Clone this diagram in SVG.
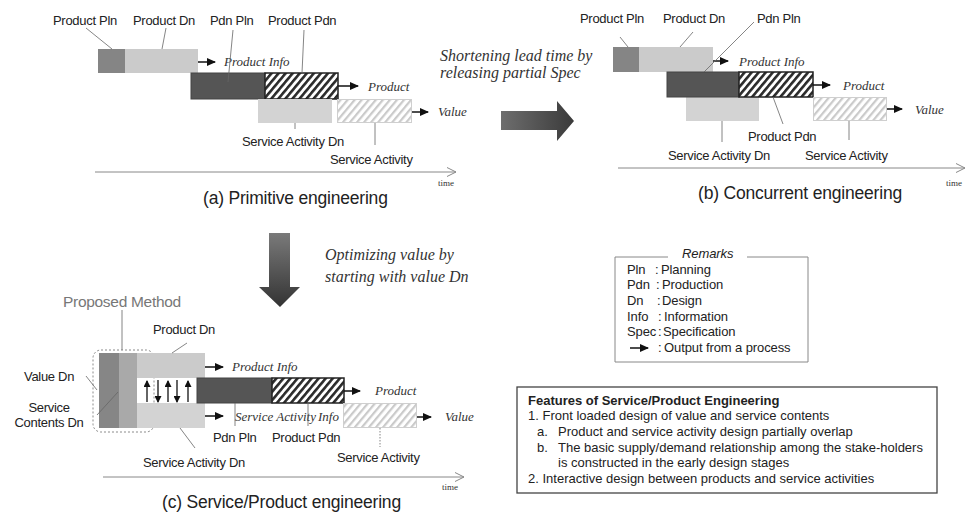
<svg xmlns="http://www.w3.org/2000/svg" width="965" height="513" viewBox="0 0 965 513">
<defs>
<style>
.l{font-family:"Liberation Sans",Arial,sans-serif;font-size:13px;fill:#222;letter-spacing:-0.3px}
.t{font-family:"Liberation Sans",Arial,sans-serif;font-size:17.5px;fill:#222;letter-spacing:-0.2px}
.i{font-family:"Liberation Serif","Times New Roman",serif;font-style:italic;font-size:13px;fill:#333}
.big{font-family:"Liberation Serif","Times New Roman",serif;font-style:italic;font-size:16px;fill:#333}
.tm{font-family:"Liberation Serif","Times New Roman",serif;font-size:9px;fill:#333}
.r{font-family:"Liberation Sans",Arial,sans-serif;font-size:13px;fill:#222;letter-spacing:-0.1px}
.f{font-family:"Liberation Sans",Arial,sans-serif;font-size:13px;fill:#222}
.ld{stroke:#666;stroke-width:0.8;fill:none}
.o{stroke:#111;stroke-width:1.5;fill:none;marker-end:url(#ah)}
.ax{stroke:#888;stroke-width:1;fill:none;marker-end:url(#ax)}
.pln{fill:#858585}
.dn{fill:#cbcbcb}
.sdn{fill:#d3d3d3}
.pp{fill:#555;stroke:#444;stroke-width:1}
.hd{fill:url(#hd);stroke:#222;stroke-width:1.5}
.hl{fill:url(#hl);stroke:#cfcfcf;stroke-width:1}
.ud{stroke:#111;stroke-width:1.3;fill:none}
</style>
<marker id="ah" markerUnits="userSpaceOnUse" markerWidth="9" markerHeight="8" refX="8" refY="4" orient="auto"><path d="M0,0 L9,4 L0,8 z" fill="#111"/></marker>
<marker id="ax" markerUnits="userSpaceOnUse" markerWidth="10" markerHeight="10" refX="9" refY="5" orient="auto"><path d="M0,0.5 L9,5 L0,9.5" fill="none" stroke="#888" stroke-width="1"/></marker>
<marker id="sm" markerUnits="userSpaceOnUse" markerWidth="7" markerHeight="7" refX="6" refY="3.5" orient="auto"><path d="M0,0 L7,3.5 L0,7 z" fill="#111"/></marker>
<pattern id="hd" width="5.4" height="10" patternUnits="userSpaceOnUse" patternTransform="rotate(40)"><rect width="5.4" height="10" fill="#fff"/><rect width="2.6" height="10" fill="#2a2a2a"/></pattern>
<pattern id="hl" width="5.4" height="10" patternUnits="userSpaceOnUse" patternTransform="rotate(40)"><rect width="5.4" height="10" fill="#fff"/><rect width="2.2" height="10" fill="#cacaca"/></pattern>
<linearGradient id="gr" x1="0" y1="0" x2="1" y2="0"><stop offset="0" stop-color="#6e6e6e"/><stop offset="1" stop-color="#3a3a3a"/></linearGradient>
<linearGradient id="gd" x1="0" y1="0" x2="0" y2="1"><stop offset="0" stop-color="#7a7a7a"/><stop offset="1" stop-color="#333"/></linearGradient>
</defs>
<rect width="965" height="513" fill="#fff"/>

<!-- Panel (a) -->
<g id="a-product-pln"><rect class="pln" x="98" y="49" width="27" height="24"/><text class="l" x="53" y="25">Product Pln</text></g>
<g id="a-product-dn"><rect class="dn" x="125" y="49" width="73" height="24"/><text class="l" x="133" y="25">Product Dn</text></g>
<g id="a-pdn-pln"><rect class="pp" x="191" y="73" width="74" height="26"/><text class="l" x="210" y="25">Pdn Pln</text></g>
<g id="a-product-pdn"><rect class="hd" x="265" y="73" width="73" height="26"/><text class="l" x="268" y="25">Product Pdn</text></g>
<g id="a-sa-dn"><rect class="sdn" x="258" y="99" width="74" height="24"/><text class="l" x="242" y="146">Service Activity Dn</text></g>
<g id="a-sa"><rect class="hl" x="337.5" y="99.5" width="74" height="23"/><text class="l" x="330" y="164">Service Activity</text></g>
<g id="a-outputs">
<text class="i" x="224" y="66">Product Info</text>
<text class="i" x="368" y="91">Product</text>
<text class="i" x="438" y="116">Value</text>
</g>
<text class="tm" x="438" y="186">time</text>
<text class="t" x="203" y="204">(a) Primitive engineering</text>

<!-- Panel (b) -->
<g id="b-product-pln"><rect class="pln" x="613" y="47" width="26" height="25"/><text class="l" x="580" y="23">Product Pln</text></g>
<g id="b-product-dn"><rect class="dn" x="639" y="47" width="74" height="25"/><text class="l" x="663" y="23">Product Dn</text></g>
<g id="b-sa-dn"><rect class="sdn" x="686" y="97" width="73" height="24"/><text class="l" x="668" y="160">Service Activity Dn</text></g>
<g id="b-pdn-pln"><rect class="pp" x="667" y="72" width="72" height="25"/><text class="l" x="757" y="23">Pdn Pln</text></g>
<g id="b-product-pdn"><rect class="hd" x="739" y="72" width="74" height="25"/><text class="l" x="748" y="141">Product Pdn</text></g>
<g id="b-sa"><rect class="hl" x="813.5" y="97.5" width="73" height="23"/><text class="l" x="805" y="160">Service Activity</text></g>
<g id="b-outputs">
<text class="i" x="739" y="65.5">Product Info</text>
<text class="i" x="843" y="89.5">Product</text>
<text class="i" x="915" y="113.5">Value</text>
</g>
<text class="tm" x="946" y="186">time</text>
<text class="t" x="698" y="199">(b) Concurrent engineering</text>

<!-- Transition arrows -->
<g id="arrow-right"><polygon points="501,111 557,111 557,101 574,121 557,141 557,130 501,130" fill="url(#gr)"/>
<text class="big" x="440" y="61">Shortening lead time by</text>
<text class="big" x="440" y="78">releasing partial Spec</text></g>
<g id="arrow-down"><polygon points="269,233 290,233 290,287 300,287 280,307 259,287 269,287" fill="url(#gd)"/>
<text class="big" x="325" y="260">Optimizing value by</text>
<text class="big" x="325" y="282">starting with value Dn</text></g>

<!-- Panel (c) -->
<g id="c-proposed"><rect x="93" y="350" width="61" height="82" rx="8" fill="none" stroke="#8a8a8a" stroke-width="1" stroke-dasharray="2,2"/><text class="l" x="63" y="307" style="font-size:15.5px;fill:#777">Proposed Method</text></g>
<g id="c-value-dn"><rect x="99" y="353" width="20" height="75" fill="#868686"/><text class="l" x="24" y="381">Value Dn</text></g>
<g id="c-service-contents-dn"><rect x="119" y="353" width="18" height="75" fill="#a9a9a9"/><text class="l" x="49" y="412" text-anchor="middle">Service</text><text class="l" x="49" y="427" text-anchor="middle">Contents Dn</text></g>
<g id="c-product-dn"><rect class="dn" x="137" y="353" width="68" height="25"/><text class="l" x="153" y="334">Product Dn</text></g>
<g id="c-sa-dn"><rect class="sdn" x="137" y="403" width="68" height="25"/><text class="l" x="143" y="467">Service Activity Dn</text></g>
<g id="c-pdn-pln"><rect class="pp" x="197" y="378" width="75" height="25"/><text class="l" x="213" y="442">Pdn Pln</text></g>
<g id="c-product-pdn"><rect class="hd" x="272" y="378" width="72" height="25"/><text class="l" x="272" y="442">Product Pdn</text></g>
<g id="c-sa"><rect class="hl" x="343.5" y="403.5" width="73" height="24"/><text class="l" x="337" y="462">Service Activity</text></g>
<g id="c-interaction">
<line class="ud" x1="147" y1="402" x2="147" y2="381" marker-end="url(#sm)"/>
<line class="ud" x1="158" y1="380" x2="158" y2="402" marker-end="url(#sm)"/>
<line class="ud" x1="168" y1="402" x2="168" y2="381" marker-end="url(#sm)"/>
<line class="ud" x1="177" y1="380" x2="177" y2="402" marker-end="url(#sm)"/>
<line class="ud" x1="188" y1="402" x2="188" y2="381" marker-end="url(#sm)"/>
</g>
<g id="c-outputs">
<text class="i" x="232" y="370.5">Product Info</text>
<text class="i" y="420.5"><tspan x="235">Service Activity</tspan><tspan x="318">Info</tspan></text>
<text class="i" x="375" y="395">Product</text>
<text class="i" x="445" y="421">Value</text>
</g>
<text class="tm" x="442" y="490">time</text>
<text class="t" x="162" y="508">(c) Service/Product engineering</text>

<!-- Connectors -->
<g id="connectors">
<line class="o" x1="198" y1="62" x2="215" y2="62"/>
<line class="o" x1="338" y1="86" x2="358" y2="86"/>
<line class="o" x1="412" y1="112" x2="428" y2="112"/>
<line class="ax" x1="95" y1="172" x2="456" y2="172"/>
<path class="ld" d="M86,28 L112,49 M166,28 L162,49 M233,30 L228,82 M304,30 L302,73 M295,123 L295,129 M375,123 L375,145"/>

<line class="o" x1="713" y1="61" x2="728" y2="61"/>
<line class="o" x1="813" y1="85" x2="830" y2="85"/>
<line class="o" x1="887" y1="109" x2="902" y2="109"/>
<line class="ax" x1="618" y1="168" x2="965" y2="168"/>
<path class="ld" d="M620,37 L628,47 M693,32 L680,47 M754,22 L704,72 M773,97 L783,124 M722,121 L722,142 M849,121 L849,140"/>

<line class="o" x1="205" y1="367" x2="223" y2="367"/>
<line class="o" x1="205" y1="416" x2="223" y2="416"/>
<line class="o" x1="344" y1="391" x2="360" y2="391"/>
<line class="o" x1="417" y1="417" x2="431" y2="417"/>
<line class="ax" x1="103" y1="477" x2="464" y2="477"/>
<path class="ld" d="M122,310 L122,350 M172,353 L187,343 M86,376 L97,390 M97,415 L118,392 M235,403 L235,426 M308,403 L308,426 M180,428 L195,448"/>
<line x1="380" y1="428" x2="380" y2="447" stroke="#777" stroke-width="0.9" stroke-dasharray="1.5,1.5"/>
</g>

<!-- Remarks -->
<g id="remarks">
<path d="M668,257 L615,257 L615,362 L808,362 L808,257 L747,257" fill="none" stroke="#888" stroke-width="1"/>
<text class="r" x="682" y="257.5" style="font-style:italic">Remarks</text>
<text class="r" y="274"><tspan x="627">Pln</tspan><tspan x="655">:</tspan><tspan x="661">Planning</tspan></text>
<text class="r" y="289"><tspan x="627">Pdn</tspan><tspan x="656">:</tspan><tspan x="662">Production</tspan></text>
<text class="r" y="305"><tspan x="627">Dn</tspan><tspan x="657">:</tspan><tspan x="662">Design</tspan></text>
<text class="r" y="321"><tspan x="627">Info</tspan><tspan x="658">:</tspan><tspan x="664">Information</tspan></text>
<text class="r" y="336"><tspan x="627">Spec</tspan><tspan x="658">:</tspan><tspan x="663">Specification</tspan></text>
<line class="o" x1="630" y1="348" x2="648" y2="348"/>
<text class="r" y="352"><tspan x="658">:</tspan><tspan x="664">Output from a process</tspan></text>
</g>

<!-- Features -->
<g id="features">
<rect x="517" y="387" width="420" height="106" fill="none" stroke="#444" stroke-width="1.3"/>
<text class="f" x="528" y="405" style="font-weight:bold">Features of Service/Product Engineering</text>
<text class="f" x="528" y="420">1. Front loaded design of value and service contents</text>
<text class="f" x="537" y="436">a.</text><text class="f" x="558" y="436">Product and service activity design partially overlap</text>
<text class="f" x="537" y="452">b.</text><text class="f" x="558" y="452">The basic supply/demand relationship among the stake-holders</text>
<text class="f" x="558" y="467">is constructed in the early design stages</text>
<text class="f" x="528" y="483">2. Interactive design between products and service activities</text>
</g>
</svg>
